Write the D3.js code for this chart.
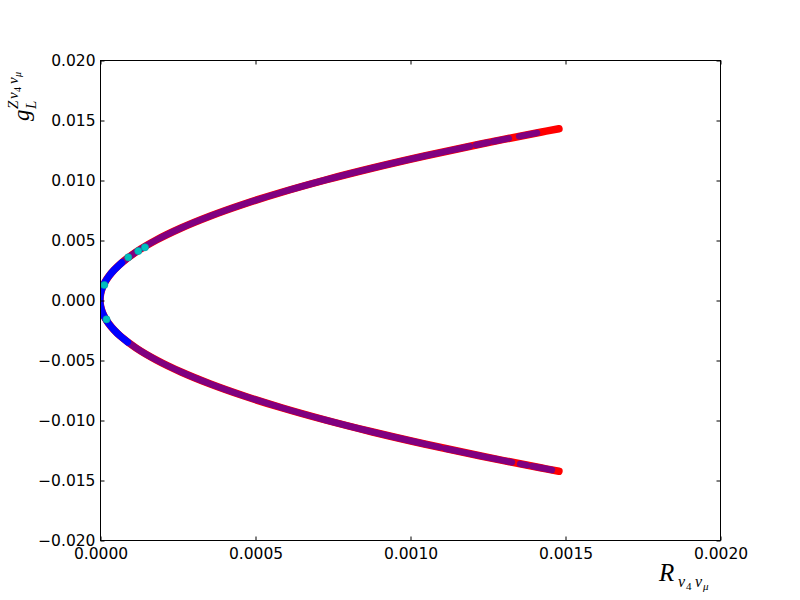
<!DOCTYPE html>
<html>
<head>
<meta charset="utf-8">
<script src="https://cdn.jsdelivr.net/npm/d3@7"></script>
<style>
  html, body { margin: 0; padding: 0; background: #fff; }
  svg { display: block; }
</style>
</head>
<body>
<svg id="chart" width="800" height="600"></svg>
<script>
// ---------- data ----------
// red series: whole curve, bottom branch up through the vertex to the top branch
const redG = [-0.01427, -0.014, -0.013, -0.012, -0.011, -0.010, -0.009, -0.008, -0.007, -0.006, -0.005, -0.004, -0.003, -0.0025, -0.002, -0.0015, -0.001, -0.0005, 0,
              0.0005, 0.001, 0.0015, 0.002, 0.0025, 0.003, 0.004, 0.005, 0.006, 0.007, 0.008, 0.009, 0.010, 0.011, 0.012, 0.013, 0.014, 0.01427];
const redR = [0.0014804, 0.0014249, 0.0012286, 0.0010469, 0.0008797, 0.000727, 0.0005889, 0.0004653, 0.0003562, 0.0002617, 0.0001818, 0.0001163, 0.0000654, 0.0000454, 0.0000291, 0.0000164, 0.0000073, 0.0000018, 0,
              0.0000018, 0.0000073, 0.0000164, 0.0000291, 0.0000454, 0.0000654, 0.0001163, 0.0001818, 0.0002617, 0.0003562, 0.0004653, 0.0005889, 0.000727, 0.0008797, 0.0010469, 0.0012286, 0.0014249, 0.0014804];

// purple series: pieces of the curve (each inner list = one run of dense points)
const purpleSegG = [
  [0.003, 0.004, 0.005, 0.006, 0.007, 0.008, 0.009, 0.010, 0.011, 0.012, 0.012815],
  [0.012917, 0.01312],
  [0.013205, 0.01347],
  [0.01364, 0.013926],
  [-0.00275, -0.003, -0.004, -0.005, -0.006, -0.007, -0.008, -0.009, -0.010, -0.011, -0.012, -0.012283],
  [-0.012373, -0.013, -0.013273],
  [-0.013306, -0.01352],
  [-0.013652, -0.013763],
  [-0.013847, -0.014, -0.014162]
];
const purpleSegR = [
  [0.0000654, 0.0001163, 0.0001818, 0.0002617, 0.0003562, 0.0004653, 0.0005889, 0.000727, 0.0008797, 0.0010469, 0.001194],
  [0.001213, 0.001252],
  [0.001268, 0.001319],
  [0.001352, 0.00141],
  [0.000055, 0.0000654, 0.0001163, 0.0001818, 0.0002617, 0.0003562, 0.0004653, 0.0005889, 0.000727, 0.0008797, 0.0010469, 0.001097],
  [0.001113, 0.0012286, 0.001281],
  [0.001287, 0.001329],
  [0.001355, 0.001377],
  [0.001394, 0.0014249, 0.001458]
];

// blue series: around the vertex
const blueG = [-0.0035, -0.003, -0.0025, -0.002, -0.0015, -0.001, -0.0005, 0, 0.0005, 0.001, 0.0015, 0.002, 0.0025, 0.0031];
const blueR = [0.0000891, 0.0000654, 0.0000454, 0.0000291, 0.0000164, 0.0000073, 0.0000018, 0, 0.0000018, 0.0000073, 0.0000164, 0.0000291, 0.0000454, 0.0000699];

// cyan series: a few isolated points
const cyanG = [0.00125, -0.00161, 0.00356, 0.00408, 0.00439];
const cyanR = [0.0000139, 0.000021, 0.0000913, 0.0001235, 0.000145];

// axes
const xTicks = [0, 0.0005, 0.001, 0.0015, 0.002];
const xTickLabels = ["0.0000", "0.0005", "0.0010", "0.0015", "0.0020"];
const yTicks = [-0.020, -0.015, -0.010, -0.005, 0, 0.005, 0.010, 0.015, 0.020];
const yTickLabels = ["\u22120.020", "\u22120.015", "\u22120.010", "\u22120.005", "0.000", "0.005", "0.010", "0.015", "0.020"];

// ---------- drawing ----------
const svg = d3.select("#chart");
const L = 100, R = 720, T = 60, B = 540;
const x = d3.scaleLinear().domain([0, 0.002]).range([L, R]);
const y = d3.scaleLinear().domain([-0.02, 0.02]).range([B, T]);

svg.append("rect").attr("x", 0).attr("y", 0).attr("width", 800).attr("height", 600).attr("fill", "#fff");

svg.append("defs").append("clipPath").attr("id", "plotclip")
  .append("rect").attr("x", L).attr("y", T).attr("width", R - L).attr("height", B - T);

const plot = svg.append("g").attr("clip-path", "url(#plotclip)");

const line = d3.line().x(d => x(d[0])).y(d => y(d[1])).curve(d3.curveCatmullRom);
const zip = (rs, gs) => rs.map((r, i) => [r, gs[i]]);

// red
plot.append("path").datum(zip(redR, redG))
  .attr("d", line).attr("fill", "none").attr("stroke", "#ff0000")
  .attr("stroke-width", 7.5).attr("stroke-linecap", "round").attr("stroke-linejoin", "round");

// purple
purpleSegR.forEach((rs, i) => {
  plot.append("path").datum(zip(rs, purpleSegG[i]))
    .attr("d", line).attr("fill", "none").attr("stroke", "#800080")
    .attr("stroke-width", 6.5).attr("stroke-linecap", "round").attr("stroke-linejoin", "round");
});

// blue
plot.append("path").datum(zip(blueR, blueG))
  .attr("d", line).attr("fill", "none").attr("stroke", "#0000ff")
  .attr("stroke-width", 7).attr("stroke-linecap", "round").attr("stroke-linejoin", "round");

// cyan
plot.selectAll("circle.cyan").data(zip(cyanR, cyanG)).enter().append("circle")
  .attr("class", "cyan")
  .attr("cx", d => x(d[0])).attr("cy", d => y(d[1])).attr("r", 3.6)
  .attr("fill", "#00bfbf").attr("stroke", "#00a0a8").attr("stroke-width", 0.6);

// frame
svg.append("rect").attr("x", L + 0.5).attr("y", T + 0.5).attr("width", R - L).attr("height", B - T)
  .attr("fill", "none").attr("stroke", "#000").attr("stroke-width", 1);

// axes with inward ticks on all sides
const tickLen = 4;
const xAxisB = d3.axisBottom(x).tickValues(xTicks).tickFormat((d, i) => xTickLabels[i]).tickSizeInner(-tickLen).tickSizeOuter(0).tickPadding(7);
const xAxisT = d3.axisTop(x).tickValues(xTicks).tickFormat("").tickSizeInner(-tickLen).tickSizeOuter(0);
const yAxisL = d3.axisLeft(y).tickValues(yTicks).tickFormat((d, i) => yTickLabels[i]).tickSizeInner(-tickLen).tickSizeOuter(0).tickPadding(5);
const yAxisR = d3.axisRight(y).tickValues(yTicks).tickFormat("").tickSizeInner(-tickLen).tickSizeOuter(0);

function styleAxis(g) {
  g.select(".domain").remove();
  g.selectAll(".tick line").attr("stroke", "#000").attr("stroke-width", 1);
  g.selectAll(".tick text").attr("fill", "#000")
    .style("font-family", "'DejaVu Sans', sans-serif").style("font-size", "15.5px");
}
svg.append("g").attr("transform", `translate(0.5,${B + 0.5})`).call(xAxisB).call(styleAxis);
svg.append("g").attr("transform", `translate(0.5,${T + 0.5})`).call(xAxisT).call(styleAxis);
svg.append("g").attr("transform", `translate(${L + 0.5},0.5)`).call(yAxisL).call(styleAxis);
svg.append("g").attr("transform", `translate(${R + 0.5},0.5)`).call(yAxisR).call(styleAxis);

// x label  R_{ν4 νμ}
const mathFont = "'Liberation Serif', 'DejaVu Serif', serif";
const xl = svg.append("g").style("font-family", mathFont).style("font-style", "italic").attr("fill", "#000");
xl.append("text").attr("x", 659).attr("y", 581).style("font-size", "25px").text("R");
xl.append("text").attr("x", 678).attr("y", 587).style("font-size", "16px").text("\u03bd");
xl.append("text").attr("x", 686).attr("y", 590).style("font-size", "11px").style("font-style", "normal").text("4");
xl.append("text").attr("x", 695).attr("y", 587).style("font-size", "16px").text("\u03bd");
xl.append("text").attr("x", 703).attr("y", 590).style("font-size", "11px").text("\u03bc");

// y label  g_L^{Z ν4 νμ}, rotated
const yl = svg.append("g").attr("transform", "translate(29,121) rotate(-90)")
  .style("font-family", mathFont).style("font-style", "italic").attr("fill", "#000");
yl.append("text").attr("x", 0).attr("y", 0).style("font-size", "23px").text("g");
yl.append("text").attr("x", 12).attr("y", 7).style("font-size", "15px").text("L");
yl.append("text").attr("x", 12).attr("y", -11).style("font-size", "15px").text("Z");
yl.append("text").attr("x", 22).attr("y", -11).style("font-size", "15px").text("\u03bd");
yl.append("text").attr("x", 29).attr("y", -8).style("font-size", "10px").style("font-style", "normal").text("4");
yl.append("text").attr("x", 37).attr("y", -11).style("font-size", "15px").text("\u03bd");
yl.append("text").attr("x", 44).attr("y", -8).style("font-size", "10px").text("\u03bc");
</script>
</body>
</html>
